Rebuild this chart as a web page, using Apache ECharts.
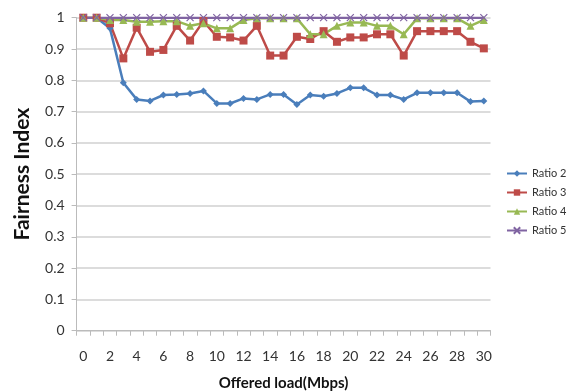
<!DOCTYPE html>
<html><head><meta charset="utf-8">
<script src="https://cdn.jsdelivr.net/npm/echarts@6/dist/echarts.min.js"></script>
<style>html,body{margin:0;padding:0;background:#fff}#c{width:567px;height:392px}</style>
</head><body><div id="c"></div>
<script>
const categories = Array.from({length:31},(_,i)=>String(i));
const ratio2 = [1,1,0.966,0.792,0.739,0.734,0.753,0.755,0.758,0.766,0.726,0.726,0.742,0.739,0.755,0.755,0.723,0.753,0.749,0.758,0.776,0.776,0.753,0.753,0.739,0.76,0.76,0.76,0.76,0.732,0.734];
const ratio3 = [1,1,0.982,0.870,0.968,0.891,0.897,0.974,0.927,0.989,0.939,0.937,0.927,0.974,0.879,0.879,0.939,0.932,0.957,0.923,0.937,0.937,0.947,0.947,0.879,0.957,0.957,0.957,0.957,0.923,0.902];
const ratio4 = [1,1,0.993,0.993,0.987,0.987,0.989,0.989,0.974,0.982,0.966,0.966,0.993,0.998,0.998,0.998,0.998,0.947,0.947,0.974,0.985,0.985,0.974,0.974,0.947,0.998,0.998,0.998,0.998,0.974,0.993];
const ratio5 = [1,1,1,1,1,1,1,1,1,1,1,1,1,1,1,1,1,1,1,1,1,1,1,1,1,1,1,1,1,1,1];
const yTicks = [0,0.1,0.2,0.3,0.4,0.5,0.6,0.7,0.8,0.9,1];

const font = 'Lato, "Open Sans", sans-serif';
const xSym = 'path://M0,0L10,10M10,0L0,10';
function ser(name, data, color, symbol, size, extra){
  return Object.assign({
    name, type:'line', data, symbol, symbolSize:size, showSymbol:true,
    lineStyle:{color, width:2.5}, itemStyle:{color}, animation:false,
    emphasis:{disabled:true}
  }, extra||{});
}
const chart = echarts.init(document.getElementById('c'));
chart.setOption({
  animation:false,
  grid:{left:76.6, right:76.5, top:17.7, bottom:61.3, containLabel:false, outerBoundsMode:'none'},
  legend:{
    orient:'vertical', left:506, top:168, padding:0, itemGap:8, itemWidth:20, itemHeight:8,
    textStyle:{fontFamily:font, fontSize:11, color:'#333'},
    data:['Ratio 2','Ratio 3','Ratio 4','Ratio 5']
  },
  xAxis:{
    type:'category', data:categories, boundaryGap:true,
    name:'Offered load(Mbps)', nameLocation:'middle', nameGap:45,
    nameTextStyle:{fontFamily:font, fontSize:15, fontWeight:'bold', color:'#111'},
    axisLine:{lineStyle:{color:'#bbb', width:1}},
    axisTick:{show:true, interval:0, length:5, lineStyle:{color:'#bbb'}},
    axisLabel:{interval:1, fontFamily:font, fontSize:14, color:'#333', margin:19},
    splitLine:{show:false}
  },
  yAxis:{
    type:'value', min:0, max:1, interval:0.1,
    name:'Fairness Index', nameLocation:'middle', nameGap:44,
    nameTextStyle:{fontFamily:font, fontSize:21, fontWeight:'bold', color:'#111'},
    axisLine:{show:true, lineStyle:{color:'#bbb'}},
    axisTick:{show:true, length:5, lineStyle:{color:'#bbb'}},
    axisLabel:{fontFamily:font, fontSize:14, color:'#333', margin:12,
      formatter:v=>String(Math.round(v*10)/10)},
    splitLine:{lineStyle:{color:'#d0d0d0', width:1.5}}
  },
  series:[
    ser('Ratio 2', ratio2, '#4a7ebb', 'diamond', 7),
    ser('Ratio 3', ratio3, '#be4b48', 'rect', 8),
    ser('Ratio 4', ratio4, '#98b954', 'triangle', 8),
    ser('Ratio 5', ratio5, '#8064a2', xSym, 7, {itemStyle:{color:'#8064a2', borderColor:'#8064a2', borderWidth:1.2}})
  ]
});
</script></body></html>
